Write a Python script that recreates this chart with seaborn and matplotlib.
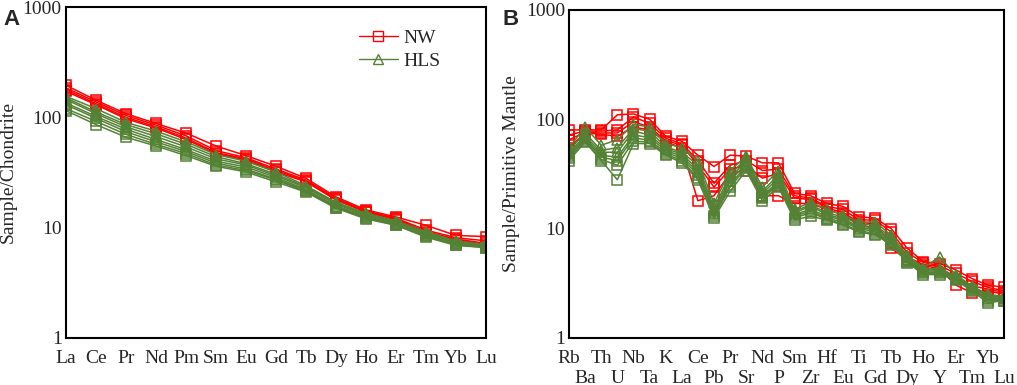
import numpy as np
import pandas as pd
import matplotlib
matplotlib.use("Agg")
import matplotlib.pyplot as plt
from matplotlib.lines import Line2D
from matplotlib.ticker import LogLocator, FixedFormatter, NullFormatter, FixedLocator
import seaborn as sns

# ------------------------------
# DATA
# ------------------------------
REE = ['La', 'Ce', 'Pr', 'Nd', 'Pm', 'Sm', 'Eu', 'Gd', 'Tb', 'Dy', 'Ho', 'Er', 'Tm', 'Yb', 'Lu']
SPIDER = ['Rb', 'Ba', 'Th', 'U', 'Nb', 'Ta', 'K', 'La', 'Ce', 'Pb', 'Pr', 'Sr', 'Nd', 'P',
          'Sm', 'Zr', 'Hf', 'Eu', 'Ti', 'Gd', 'Tb', 'Dy', 'Ho', 'Y', 'Er', 'Tm', 'Yb', 'Lu']

# chondrite-normalised REE, NW samples
ree_nw = [
    [195, 143, 108, 88, 72, 55, 45, 36, 28, 19, 14.5, 12.5, 10.5, 8.5, 8.3],
    [185, 138, 104, 85, 68, 50, 43, 34, 27, 18.5, 14.2, 12.2, 9.5, 8.1, 7.6],
    [178, 133, 100, 82, 65, 48, 42, 33, 26.5, 18, 14, 12, 9.2, 7.9, 7.2],
    [172, 130, 97, 80, 63, 47, 41, 32, 26, 17.8, 13.8, 11.8, 9.0, 7.8, 7.0],
]
# chondrite-normalised REE, HLS samples
ree_hls = [
    [155, 120, 90, 75, 60, 46, 40, 32, 24, 17, 13.5, 11.5, 9.2, 7.6, 7.0],
    [150, 112, 86, 71, 57, 44, 38, 30.5, 23.5, 16.7, 13.2, 11.3, 9.0, 7.5, 6.9],
    [145, 108, 82, 67, 54, 42, 37, 29.5, 23, 16.3, 13, 11.1, 8.9, 7.3, 6.8],
    [135, 102, 78, 63, 51, 40, 35.5, 28.5, 22.2, 15.8, 12.7, 10.9, 8.7, 7.2, 6.7],
    [130, 98, 74, 60, 49, 38.5, 34, 27.5, 21.8, 15.5, 12.4, 10.7, 8.5, 7.1, 6.7],
    [120, 92, 70, 57, 47, 37, 33, 27, 21.3, 15.2, 12.2, 10.6, 8.4, 7.0, 6.6],
    [115, 86, 66, 55, 45, 36, 32, 26, 21, 15, 12, 10.5, 8.2, 6.9, 6.6],
]
ree_hls_markers = ['^', '^', '^', '^', '^', 's', 's']

# primitive-mantle-normalised trace elements, NW samples
pm_nw = [
    [80, 80, 80, 110, 112, 100, 70, 63, 47, 37, 47, 46, 40, 40,
     21, 20, 17, 16, 12.8, 12.5, 10, 6.6, 5.0, 4.8, 4.2, 3.5, 3.05, 2.9],
    [72, 78, 78, 80, 105, 92, 67, 60, 42, 26, 38, 42, 34, 35,
     20, 19, 16, 15, 12, 12, 9.3, 6.0, 4.9, 4.6, 3.9, 3.3, 2.9, 2.7],
    [65, 76, 75, 75, 95, 85, 64, 58, 38, 24, 35, 38, 29, 32,
     19, 18.5, 15.5, 14, 11.5, 11, 7.4, 5.5, 4.7, 4.5, 3.5, 3.0, 2.8, 2.6],
    [55, 75, 73, 70, 85, 80, 62, 55, 18, 20, 32, 34, 20, 20,
     17, 17, 15, 13.5, 11, 10, 6.6, 5.2, 4.6, 4.3, 3.05, 2.6, 2.7, 2.5],
]
# primitive-mantle-normalised trace elements, HLS samples
pm_hls = [
    [55, 85, 58, 65, 90, 85, 60, 55, 42, 17, 34, 46, 24, 34,
     15, 17.5, 15, 13.3, 11.5, 11.5, 8.7, 5.7, 4.4, 5.5, 3.8, 3.0, 2.5, 2.4],
    [52, 75, 52, 55, 82, 78, 56, 50, 38, 15.5, 31, 44, 22, 31,
     14.5, 16.5, 14, 12.8, 11, 10.8, 8.3, 5.5, 4.3, 4.3, 3.7, 2.95, 2.45, 2.35],
    [50, 70, 50, 50, 78, 72, 54, 48, 35, 14.5, 29, 42, 21, 29,
     14, 16, 13.5, 12.3, 10.5, 10.2, 8.0, 5.3, 4.2, 4.2, 3.6, 2.9, 2.4, 2.3],
    [48, 68, 47, 45, 72, 68, 52, 46, 33, 14, 27, 40, 20, 27,
     13.5, 15, 13, 12, 10.2, 9.8, 7.7, 5.2, 4.1, 4.1, 3.55, 2.85, 2.3, 2.3],
    [46, 66, 45, 42, 68, 64, 50, 44, 31, 13.5, 25, 38, 19.5, 26,
     13, 14.5, 12.5, 11.5, 10, 9.4, 7.5, 5.1, 4.0, 4.0, 3.5, 2.8, 2.25, 2.25],
    [44, 64, 43, 38, 63, 62, 48, 42, 29, 13, 24, 36, 19, 25,
     12.5, 14, 12.2, 11, 9.6, 9.0, 7.3, 5.0, 3.9, 3.9, 3.45, 2.75, 2.2, 2.2],
    [42, 62, 42, 28, 60, 60, 47, 40, 28, 12.5, 22, 34, 18, 24,
     12, 13, 12, 10.8, 9.3, 8.8, 7.1, 4.9, 3.8, 3.8, 3.4, 2.7, 2.1, 2.2],
]
pm_hls_markers = ['^', '^', '^', '^', '^', 's', 's']

RED = '#ff0000'
GREEN = '#548235'
FS = 14


def to_long(series, elements, group, markers=None):
    rows = []
    for i, vals in enumerate(series):
        mk = markers[i] if markers else 's'
        for j, v in enumerate(vals):
            rows.append({'sample': f'{group}{i}', 'pos': j, 'elem': elements[j],
                         'val': v, 'group': group, 'mk': mk})
    return pd.DataFrame(rows)


def draw_group(ax, df, color):
    sns.lineplot(data=df, x='pos', y='val', units='sample', estimator=None,
                 style='mk', markers={'s': 's', '^': '^'}, dashes=False,
                 color=color, lw=1.1, ms=7.5, mfc='none', mec=color, mew=1.1,
                 legend=False, ax=ax, sort=False)


def style_axis(ax, elements, ylabel, two_rows=False):
    ax.set_yscale('log')
    ax.set_ylim(1, 1000)
    ax.set_xlim(0, len(elements) - 1)
    ax.yaxis.set_major_locator(FixedLocator([1, 10, 100, 1000]))
    ax.yaxis.set_major_formatter(FixedFormatter(['1', '10', '100', '1000']))
    ax.yaxis.set_minor_locator(LogLocator(base=10, subs=np.arange(2, 10)))
    ax.yaxis.set_minor_formatter(NullFormatter())
    n = len(elements)
    if two_rows:
        # upper row on the major ticks, lower row on the minor ticks
        ax.xaxis.set_major_locator(FixedLocator(list(range(0, n, 2))))
        ax.xaxis.set_major_formatter(FixedFormatter(elements[0::2]))
        ax.xaxis.set_minor_locator(FixedLocator(list(range(1, n, 2))))
        ax.xaxis.set_minor_formatter(FixedFormatter(elements[1::2]))
        ax.tick_params(axis='x', which='minor', direction='in', length=6, width=1.2,
                       labelsize=FS, pad=23, top=False)
    else:
        ax.set_xticks(range(n))
        ax.set_xticklabels(elements)
    ax.tick_params(axis='both', which='major', direction='in', length=6, width=1.2,
                   labelsize=FS, top=False, right=False)
    ax.tick_params(axis='y', which='minor', direction='in', length=3.5, width=1.0, right=False)
    ax.tick_params(axis='x', which='major', pad=9)
    ax.tick_params(axis='y', pad=3)
    for s in ax.spines.values():
        s.set_linewidth(1.5)
        s.set_color('black')
    ax.set_xlabel('')
    ax.set_ylabel(ylabel, fontsize=FS)
    ax.grid(False)


sns.set_theme(style='white')
plt.rcParams['font.family'] = ['Liberation Serif', 'DejaVu Serif']

fig = plt.figure(figsize=(10.17, 3.85), dpi=100)
axA = fig.add_axes([0.0649, 0.1221, 0.413, 0.8597])
axB = fig.add_axes([0.5595, 0.1221, 0.4277, 0.852])

draw_group(axA, to_long(ree_nw, REE, 'NW'), RED)
draw_group(axA, to_long(ree_hls, REE, 'HLS', ree_hls_markers), GREEN)
style_axis(axA, REE, 'Sample/Chondrite')

draw_group(axB, to_long(pm_nw, SPIDER, 'NW'), RED)
draw_group(axB, to_long(pm_hls, SPIDER, 'HLS', pm_hls_markers), GREEN)
style_axis(axB, SPIDER, 'Sample/Primitive Mantle', two_rows=True)

handles = [
    Line2D([], [], color=RED, lw=1.0, marker='s', ms=7.5, mfc='none', mec=RED),
    Line2D([], [], color=GREEN, lw=1.0, marker='^', ms=7.5, mfc='none', mec=GREEN),
]
axA.legend(handles, ['NW', 'HLS'], loc='upper left', bbox_to_anchor=(0.655, 0.985),
           frameon=False, fontsize=FS, handlelength=2.0, handletextpad=0.3,
           labelspacing=0.25)

fig.text(0.003, 0.977, 'A', fontsize=16, fontweight='bold', family='Liberation Sans',
         va='top', ha='left')
fig.text(0.494, 0.977, 'B', fontsize=16, fontweight='bold', family='Liberation Sans',
         va='top', ha='left')

fig.savefig('out.png', dpi=100)
